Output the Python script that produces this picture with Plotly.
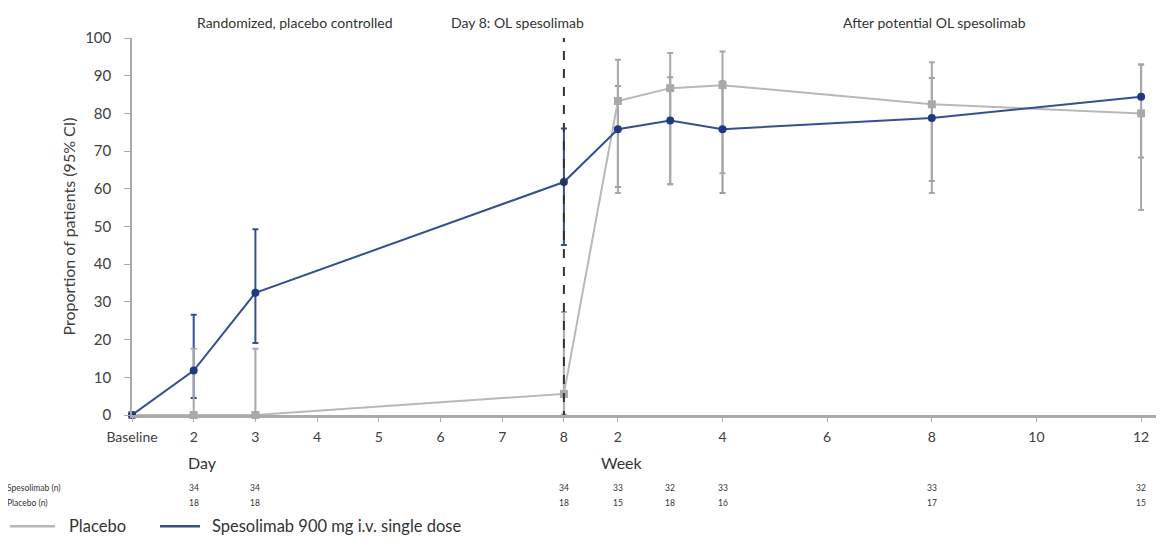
import plotly.graph_objects as go

# ---------------- data ----------------
time_unit = ["Baseline", "Day", "Day", "Day", "Week", "Week", "Week", "Week", "Week"]
time_value = [0, 2, 3, 8, 2, 3, 4, 8, 12]

spes = [0, 11.8, 32.4, 61.8, 75.8, 78.1, 75.8, 78.8, 84.4]
spes_lo = [0, 4.5, 19.1, 45.1, 60.5, 61.2, 58.9, 62.1, 68.3]
spes_hi = [0, 26.6, 49.3, 76.0, 87.3, 89.6, 88.5, 89.4, 93.0]

plac = [0, 0, 0, 5.6, 83.3, 86.7, 87.5, 82.4, 80.0]
plac_lo = [0, 0, 0, 0.1, 58.9, 61.2, 64.1, 58.9, 54.4]
plac_hi = [0, 17.6, 17.6, 27.3, 94.2, 96.0, 96.4, 93.6, 93.0]

n_spes = [None, 34, 34, 34, 33, 32, 33, 33, 32]
n_plac = [None, 18, 18, 18, 15, 18, 16, 17, 15]

day_ticks = [2, 3, 4, 5, 6, 7, 8]
week_ticks = [2, 4, 6, 8, 10, 12]

phase_labels = ["Randomized, placebo controlled", "Day 8: OL spesolimab", "After potential OL spesolimab"]
series_names = ["Placebo", "Spesolimab 900 mg i.v. single dose"]

# ---------------- axis mapping (broken time axis) ----------------
def axis_pos(unit, v):
    if unit == "Baseline":
        return 0.0
    if unit == "Day":
        return v - 1.0
    return 7.875 + (v - 2) * 0.848

x = [axis_pos(u, v) for u, v in zip(time_unit, time_value)]
tickvals = [0.0] + [axis_pos("Day", d) for d in day_ticks] + [axis_pos("Week", w) for w in week_ticks]
ticktext = ["Baseline"] + [str(d) for d in day_ticks] + [str(w) for w in week_ticks]

FONT = "Lato, 'Open Sans', sans-serif"
BLUE_LINE = "#34508f"
BLUE_MK = "#1f3a80"
GRAY_LINE = "#b8b8b8"
GRAY_MK = "#a9a9a9"
GRAY_ERR = "#a8a8a8"

# page-pixel geometry (page body has an 8px margin)
OFF = 8
PLOT_L, PLOT_R, PLOT_T, PLOT_B = 132, 1162, 37.5, 415.5
W, H = 1164 - OFF, 546 - 2 * OFF
LEG_Y = 527


def px_x(px):
    return (px - PLOT_L) / (PLOT_R - PLOT_L)


def px_y(py):
    return (PLOT_B - py) / (PLOT_B - PLOT_T)


fig = go.Figure()

# Spesolimab error bars (randomized period: blue, later: gray)
idx_day = [i for i, u in enumerate(time_unit) if u != "Week"]
idx_wk = [i for i, u in enumerate(time_unit) if u == "Week"]
for idx, col in ((idx_day, BLUE_LINE), (idx_wk, "#9b9b9b")):
    fig.add_trace(go.Scatter(
        x=[x[i] for i in idx], y=[spes[i] for i in idx], mode="markers",
        marker=dict(size=1, opacity=0),
        error_y=dict(type="data", symmetric=False,
                     array=[spes_hi[i] - spes[i] for i in idx],
                     arrayminus=[spes[i] - spes_lo[i] for i in idx],
                     color=col, thickness=2, width=3),
        showlegend=False, hoverinfo="skip", cliponaxis=False))

# Placebo
fig.add_trace(go.Scatter(
    x=x, y=plac, mode="lines+markers", name=series_names[0],
    line=dict(color=GRAY_LINE, width=2),
    marker=dict(symbol="square", size=8, color=GRAY_MK),
    error_y=dict(type="data", symmetric=False,
                 array=[h - v for h, v in zip(plac_hi, plac)],
                 arrayminus=[v - l for v, l in zip(plac, plac_lo)],
                 color=GRAY_ERR, thickness=2, width=3),
    showlegend=False, cliponaxis=False))

# Spesolimab
fig.add_trace(go.Scatter(
    x=x, y=spes, mode="lines+markers", name=series_names[1],
    line=dict(color=BLUE_LINE, width=2),
    marker=dict(symbol="circle", size=8, color=BLUE_MK),
    showlegend=False, cliponaxis=False))

shapes = [
    dict(type="line", xref="x", yref="y", x0=axis_pos("Day", 8), x1=axis_pos("Day", 8),
         y0=-1.3, y1=100, line=dict(color="#333333", width=2, dash="dash"), layer="above"),
    # legend lines
    dict(type="line", xref="paper", yref="paper", x0=px_x(10), x1=px_x(55),
         y0=px_y(LEG_Y), y1=px_y(LEG_Y), line=dict(color=GRAY_LINE, width=2.5)),
    dict(type="line", xref="paper", yref="paper", x0=px_x(160), x1=px_x(200),
         y0=px_y(LEG_Y), y1=px_y(LEG_Y), line=dict(color=BLUE_LINE, width=2.5)),
]

annotations = []


def add_text(text, xv, yv, xref, size, xanchor="center", color="#333333"):
    annotations.append(dict(text=text, x=xv, y=yv, xref=xref, yref="paper",
                            xanchor=xanchor, yanchor="middle", showarrow=False,
                            font=dict(size=size, color=color, family=FONT)))


for txt, cx in zip(phase_labels, [2.64, 6.24, 13.01]):
    add_text(txt, cx, px_y(22), "x", 14)

add_text("Day", axis_pos("Day", 2) + 0.15, px_y(463), "x", 16)
add_text("Week", axis_pos("Week", 2) + 0.07, px_y(463), "x", 16)

for lab, py in (("Spesolimab (n)", 489), ("Placebo (n)", 504)):
    add_text(lab, px_x(5), px_y(py), "paper", 8.5, xanchor="left")
for xi, ns, npl in zip(x, n_spes, n_plac):
    if ns is not None:
        add_text(str(ns), xi, px_y(489), "x", 8.5)
    if npl is not None:
        add_text(str(npl), xi, px_y(504), "x", 8.5)

for txt, px in zip(series_names, [67, 210]):
    add_text(txt, px_x(px), px_y(LEG_Y), "paper", 16.5, xanchor="left")

fig.update_layout(
    width=W, height=H,
    margin=dict(l=PLOT_L - OFF, r=(W + OFF) - PLOT_R, t=PLOT_T - OFF, b=(H + OFF) - PLOT_B,
                autoexpand=False),
    paper_bgcolor="white", plot_bgcolor="white",
    font=dict(family=FONT, color="#404040"),
    shapes=shapes, annotations=annotations, showlegend=False,
    xaxis=dict(range=[0, (PLOT_R - PLOT_L) / 61.7], tickvals=tickvals, ticktext=ticktext,
               showgrid=False, zeroline=False, showline=True, linecolor="#aaaaaa", linewidth=2.5,
               ticks="outside", ticklen=4, tickcolor="#aaaaaa", tickwidth=1,
               tickfont=dict(size=14, color="#404040", family=FONT), ticklabelstandoff=3),
    yaxis=dict(range=[0, 100], tickvals=list(range(0, 101, 10)),
               showgrid=False, zeroline=False, showline=True, linecolor="#aaaaaa", linewidth=1.5,
               ticks="outside", ticklen=6, tickcolor="#aaaaaa", tickwidth=1,
               tickfont=dict(size=15, color="#404040", family=FONT), ticklabelstandoff=10,
               title=dict(text="Proportion of patients (95% CI)", standoff=6,
                          font=dict(size=16, color="#404040", family=FONT))),
)

fig.write_html("out.html")
